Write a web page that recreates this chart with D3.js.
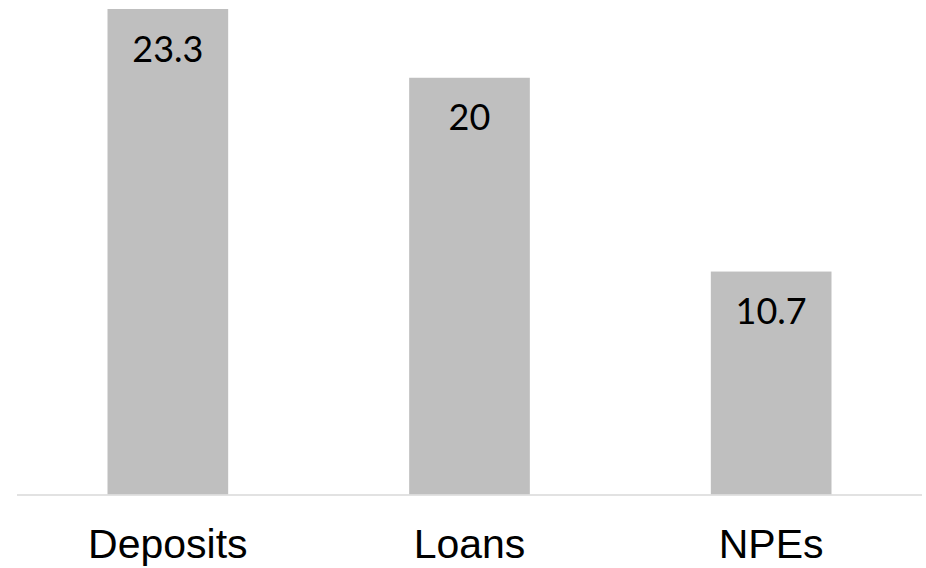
<!DOCTYPE html>
<html>
<head>
<meta charset="utf-8">
<script src="https://cdn.jsdelivr.net/npm/d3@7"></script>
<style>
  html, body { margin: 0; padding: 0; background: #fff; }
  svg { display: block; }
</style>
</head>
<body>
<svg id="chart" width="926" height="568"></svg>
<script>
// Chart data
const categories = ["Deposits", "Loans", "NPEs"];
const values = [23.3, 20, 10.7];
const valueLabels = ["23.3", "20", "10.7"];

const svg = d3.select("#chart");
const plotLeft = 17, plotRight = 922, plotBottom = 494.5, plotTop = 9;

const x = d3.scaleBand()
  .domain(categories)
  .range([plotLeft, plotRight])
  .paddingInner(0.6)
  .paddingOuter(0.3);

const y = d3.scaleLinear()
  .domain([0, d3.max(values)])
  .range([plotBottom, plotTop]);

const data = categories.map((c, i) => ({ c, v: values[i], label: valueLabels[i] }));

// Bars
svg.append("g").selectAll("rect")
  .data(data)
  .join("rect")
  .attr("x", d => x(d.c))
  .attr("y", d => y(d.v))
  .attr("width", x.bandwidth())
  .attr("height", d => y(0) - y(d.v))
  .attr("fill", "#bfbfbf");

// Value labels inside bar tops
svg.append("g").selectAll("text")
  .data(data)
  .join("text")
  .attr("x", d => x(d.c) + x.bandwidth() / 2)
  .attr("y", d => y(d.v) + 52.5)
  .attr("text-anchor", "middle")
  .attr("font-family", "Lato, 'Open Sans', sans-serif")
  .attr("font-size", 36)
  .attr("fill", "#000")
  .text(d => d.label);

// Category axis
const axis = svg.append("g")
  .attr("transform", `translate(0,${plotBottom + 0.5})`)
  .call(d3.axisBottom(x).tickSize(0).tickPadding(0));
axis.select(".domain")
  .attr("stroke", "#d9d9d9")
  .attr("stroke-width", 1.5)
  .attr("d", `M${plotLeft},0H${plotRight}`);
axis.selectAll(".tick text")
  .attr("y", 63)
  .attr("dy", null)
  .attr("font-family", "'Liberation Sans', Arial, sans-serif")
  .attr("font-size", 41)
  .attr("fill", "#000");
</script>
</body>
</html>
